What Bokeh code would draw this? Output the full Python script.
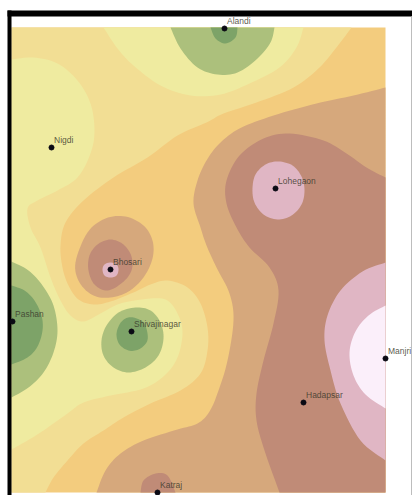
from bokeh.plotting import figure
from bokeh.models import Range1d, ColumnDataSource
from bokeh.core.properties import value
from bokeh.embed import file_html
from bokeh.resources import INLINE

# Place markers
place_names = ["Alandi", "Nigdi", "Lohegaon", "Bhosari", "Pashan", "Shivajinagar", "Manjri", "Hadapsar", "Katraj"]
place_x = [224, 51, 275, 110, 12, 131, 385, 303, 157]
place_y = [28, 147, 188, 269, 321, 331, 358, 402, 492]

# Map extent
map_x = [11, 385]
map_y = [27, 492]

# Contour outlines. Open ones end on the map edge.
tan_edge = [(351,27),(339,43),(319,67),(293,87),(256,102),(223,113),(206,122),(177,135),(147,157),(113,177),(83,200),(65,222),(60,245),(62,267),(68,285),(78,299),(93,304),(110,301),(133,292),(150,284),(167,280),(187,287),(200,303),(207,327),(207,350),(200,373),(180,390),(150,403),(123,417),(103,430),(83,443),(67,460),(53,477),(45,492)]
yellow_west = [(11,59),(33,57),(57,63),(77,80),(90,103),(94,130),(90,153),(77,177),(57,190),(37,200),(27,208),(30,227),(40,247),(50,277),(60,300),(70,315),(83,321),(100,313),(120,303),(150,298),(167,300),(178,315),(182,333),(177,357),(164,375),(143,388),(110,395),(83,402),(67,413),(43,430),(27,440),(11,449)]
yellow_north = [(103,27),(117,48),(133,65),(160,85),(190,95),(220,94),(249,83),(279,67),(296,47),(303,27)]
green_north = [(170,27),(180,48),(197,67),(217,74),(237,72),(257,58),(270,42),(274,27)]
dark_north = [(210,27),(215,38),(225,43),(235,37),(237,27)]
green_west = [(11,261),(28,270),(42,285),(53,305),(57,330),(53,352),(43,372),(28,387),(11,397)]
dark_west = [(11,285),(24,290),(34,300),(41,315),(42,330),(37,346),(27,357),(11,364)]
green_shiva = [(135,307),(150,310),(160,322),(163,338),(158,355),(145,367),(128,372),(113,367),(103,355),(101,340),(106,325),(118,312)]
dark_shiva = [(133,317),(143,322),(147,333),(146,342),(138,349),(128,350),(119,344),(116,334),(119,324),(125,318)]
clay_east = [(385,87),(353,95),(316,103),(273,115),(239,128),(219,143),(206,160),(197,180),(193,203),(200,227),(206,245),(216,267),(229,293),(233,320),(227,360),(218,390),(209,411),(197,423),(177,429),(143,440),(120,453),(105,470),(96,492)]
clay_bhosari = [(75,262),(79,282),(93,295),(110,297),(128,291),(143,277),(152,258),(152,240),(143,225),(125,216),(105,218),(87,232)]
brown_east = [(385,177),(366,167),(346,153),(323,140),(289,133),(263,138),(239,155),(226,180),(226,203),(236,227),(249,247),(269,267),(278,290),(273,323),(263,360),(256,393),(256,420),(264,450),(279,492)]
brown_bhosari = [(110,239),(123,244),(131,256),(131,270),(122,282),(107,290),(94,284),(88,270),(89,255),(97,244)]
brown_katraj = [(140,492),(143,480),(155,473),(167,475),(175,492)]
pink_lohegaon = [(278,161),(292,165),(301,176),(304,190),(301,204),(291,215),(277,219),(263,214),(254,202),(252,188),(255,174),(265,164)]
pink_manjri = [(385,262),(362,271),(340,290),(327,315),(324,340),(330,370),(340,403),(360,440),(385,460)]
pink_bhosari = [(110,262),(116,264),(118,269),(116,275),(110,277),(104,275),(102,269),(104,264)]
white_manjri = [(385,305),(368,315),(355,331),(349,352),(353,375),(365,394),(385,408)]

ORANGE, TAN, YELLOW = "#F3CC7E", "#F2DE94", "#EFEBA0"
GREEN, DARK = "#ACC07C", "#7DA368"
CLAY, BROWN, PINK, WHITE = "#D6A87C", "#C08B77", "#E0B6C4", "#FBEFFA"


def smooth(pts, closed):
    """Rounded outline through the read points (Catmull-Rom), so edges are not faceted."""
    n, out = len(pts), []
    for i in range(n if closed else n - 1):
        if closed:
            a, b, c, d = pts[i - 1], pts[i], pts[(i + 1) % n], pts[(i + 2) % n]
        else:
            a, b, c, d = pts[max(i - 1, 0)], pts[i], pts[i + 1], pts[min(i + 2, n - 1)]
        for k in range(8):
            t = k / 8
            out.append(tuple(0.5 * (2 * b[j] + (c[j] - a[j]) * t + (2 * a[j] - 5 * b[j] + 4 * c[j] - d[j]) * t * t + (3 * b[j] - a[j] - 3 * c[j] + d[j]) * t ** 3) for j in (0, 1)))
    if not closed:
        out.append(pts[-1])
    return out


L, R, T, B = map_x[0], map_x[1], map_y[0], map_y[1]
layers = [
    (smooth(tan_edge, False) + [(L, B), (L, T)], TAN),
    (smooth(yellow_west, False), YELLOW),
    (smooth(yellow_north, False), YELLOW),
    (smooth(green_north, False), GREEN),
    (smooth(dark_north, False), DARK),
    (smooth(green_west, False), GREEN),
    (smooth(dark_west, False), DARK),
    (smooth(green_shiva, True), GREEN),
    (smooth(dark_shiva, True), DARK),
    (smooth(clay_east, False) + [(R, B)], CLAY),
    (smooth(clay_bhosari, True), CLAY),
    (smooth(brown_east, False) + [(R, B)], BROWN),
    (smooth(brown_bhosari, True), BROWN),
    (smooth(brown_katraj, False), BROWN),
    (smooth(pink_lohegaon, True), PINK),
    (smooth(pink_manjri, False), PINK),
    (smooth(pink_bhosari, True), PINK),
    (smooth(white_manjri, False), WHITE),
]

p = figure(width=412, height=495, x_range=Range1d(0, 412), y_range=Range1d(495, 0),
           output_backend="svg", toolbar_location=None,
           x_axis_location=None, y_axis_location=None, min_border=0)
p.grid.visible = False
p.outline_line_color = None
p.background_fill_color = "#FFFFFF"
p.border_fill_color = "#FFFFFF"

p.quad(left=L, right=R, top=T, bottom=B, fill_color=ORANGE, line_color=None)
p.patches(xs=[[q[0] for q in l[0]] for l in layers], ys=[[q[1] for q in l[0]] for l in layers],
          fill_color=[l[1] for l in layers], line_color=None)

# Frame of the screenshot
p.quad(left=7, right=412, top=10, bottom=16, fill_color="#000000", line_color=None)
p.quad(left=7, right=11, top=10, bottom=495, fill_color="#000000", line_color=None)
p.quad(left=410.5, right=412, top=16, bottom=495, fill_color="#BDBDBD", line_color=None)

src = ColumnDataSource(dict(x=place_x, y=place_y, name=place_names))
p.scatter("x", "y", source=src, size=5, color="#0A0A14")
p.text("x", "y", text="name", source=src, x_offset=2.5, y_offset=-8,
       text_font=value("Liberation Sans"), text_font_size="8.5px", text_alpha=0.85,
       text_color="#3B3A2C", text_baseline="alphabetic", text_align="left")

open("out.html", "w").write(file_html(p, INLINE))
